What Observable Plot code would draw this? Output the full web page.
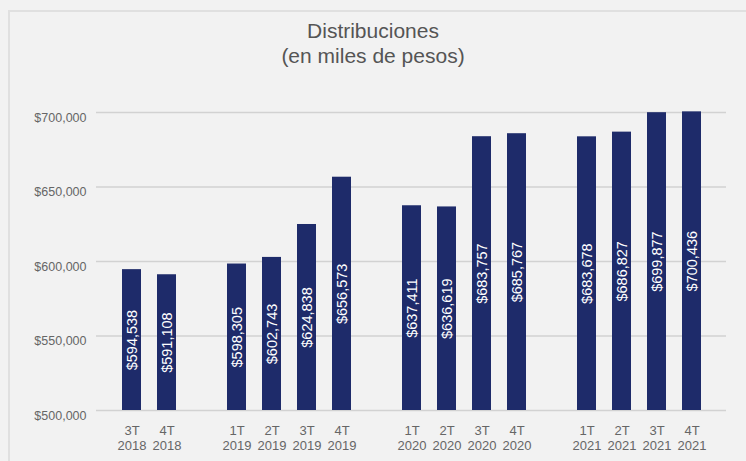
<!DOCTYPE html>
<html>
<head>
<meta charset="utf-8">
<script src="https://cdn.jsdelivr.net/npm/d3@7"></script>
<script src="https://cdn.jsdelivr.net/npm/@observablehq/plot@0.6"></script>
<style>
  html, body { margin: 0; padding: 0; background: #f2f2f2; width: 746px; height: 461px; overflow: hidden; }
  #frame { position: absolute; left: 8px; top: 10px; width: 760px; height: 480px; border-left: 2px solid #e0e0e0; border-top: 2px solid #e0e0e0; }
  #title { position: absolute; left: 0; top: 0; width: 746px; height: 75px; text-align: center; font-family: "Liberation Sans", Arial, sans-serif; color: #555; font-size: 21px; line-height: 25px; }
  #title .t1 { padding-top: 18px; }
  #chart { position: absolute; left: 0; top: 75px; }
</style>
</head>
<body>
<div id="frame"></div>
<div id="title"><div class="t1">Distribuciones</div><div>(en miles de pesos)</div></div>
<div id="chart"></div>
<script>
const quarters = ["3T","4T","1T","2T","3T","4T","1T","2T","3T","4T","1T","2T","3T","4T"];
const years = ["2018","2018","2019","2019","2019","2019","2020","2020","2020","2020","2021","2021","2021","2021"];
const values = [594538, 591108, 598305, 602743, 624838, 656573, 637411, 636619, 683757, 685767, 683678, 686827, 699877, 700436];
const yTicks = [500000, 550000, 600000, 650000, 700000];

const data = quarters.map((q, i) => ({key: q + " " + years[i], year: years[i], value: values[i]}));
// x domain with an empty slot between years
const domain = [];
data.forEach((d, i) => {
  if (i > 0 && d.year !== data[i - 1].year) domain.push("gap " + d.year);
  domain.push(d.key);
});
const fmt = d3.format("$,");

const chart = Plot.plot({
  width: 746,
  height: 386,
  marginLeft: 96,
  marginRight: 20,
  marginTop: 37,
  marginBottom: 51,
  style: {background: "transparent", fontFamily: "'Liberation Sans', Arial, sans-serif"},
  x: {type: "band", domain, paddingInner: 0.47, paddingOuter: 0.5, axis: null, label: null},
  y: {domain: [500000, 700000], axis: null, label: null},
  marks: [
    Plot.gridY(yTicks, {stroke: "#d2d2d2", strokeOpacity: 1, strokeWidth: 1.5}),
    Plot.axisY(yTicks, {tickSize: 0, tickPadding: 10, tickFormat: fmt, fontSize: 12.5, fill: "#666", dy: 5, label: null}),
    Plot.barY(data, {x: "key", y1: 500000, y2: "value", fill: "#1e2b6a"}),
    Plot.text(data, {x: "key", y: d => (500000 + d.value) / 2, text: d => fmt(d.value), rotate: -90, fill: "white", fontSize: 14.5}),
    Plot.axisX(data.map(d => d.key), {tickSize: 0, tickPadding: 13, tickFormat: k => k.replace(" ", "\n"), fontSize: 13, lineHeight: 1.2, fill: "#666", label: null})
  ]
});
document.getElementById("chart").appendChild(chart);
</script>
</body>
</html>
